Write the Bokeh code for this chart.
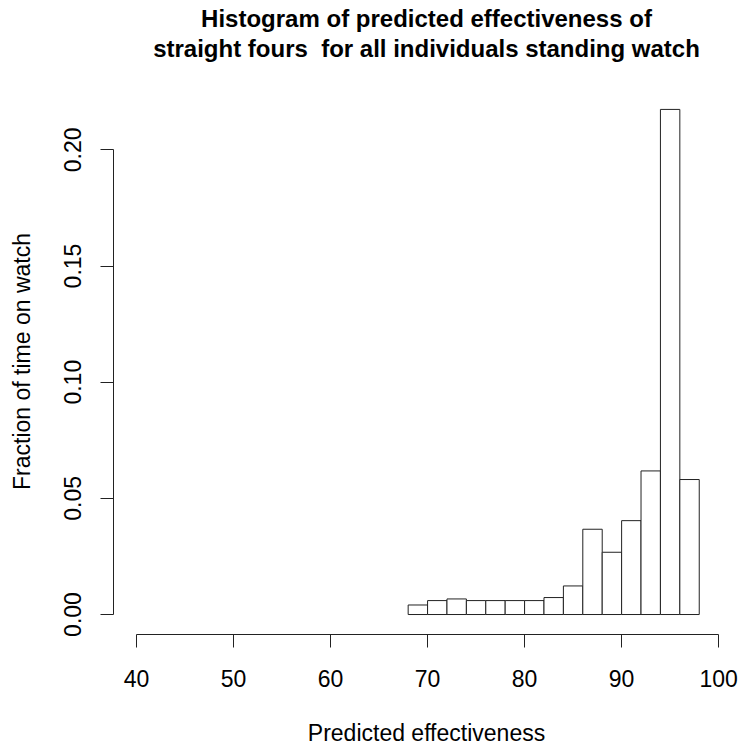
from bokeh.plotting import figure
from bokeh.layouts import column
from bokeh.models import FixedTicker, NumeralTickFormatter, Label
from bokeh.embed import file_html
from bokeh.resources import INLINE

# Histogram bins (left edges, width 2) and density heights
bin_left = [68, 70, 72, 74, 76, 78, 80, 82, 84, 86, 88, 90, 92, 94, 96]
bin_width = 2
density = [0.0041, 0.0060, 0.0067, 0.0060, 0.0060, 0.0060, 0.0060, 0.0073,
           0.0123, 0.0367, 0.0268, 0.0404, 0.0618, 0.2174, 0.0581]

x_ticks = [40, 50, 60, 70, 80, 90, 100]
y_ticks = [0.00, 0.05, 0.10, 0.15, 0.20]

title_lines = ["Histogram of predicted effectiveness of",
               "straight fours \u00a0for all individuals standing watch"]
x_label = "Predicted effectiveness"
y_label = "Fraction of time on watch"

FONT = "Liberation Sans"
INK = "#222222"

W = 739
TITLE_H = 88
PLOT_H = 748 - TITLE_H
BORDER_L, BORDER_B = 113, 114

# ---- title strip: a bare canvas holding the two centred title lines ----
# (the column aligns its frame with the histogram frame below)
head = figure(width=W, height=TITLE_H, x_range=(0, 1), y_range=(0, 1),
              output_backend="svg", toolbar_location=None,
              x_axis_location=None, y_axis_location=None,
              min_border=0)
head.outline_line_color = None
head.grid.visible = False
head.background_fill_color = "white"
head.border_fill_color = "white"

frame_mid_x = (W - BORDER_L) / 2
line_mid_from_top = [18, 48]
for text, top in zip(title_lines, line_mid_from_top):
    head.add_layout(Label(x=frame_mid_x, y=TITLE_H - top,
                          x_units="screen", y_units="screen",
                          text=text, text_align="center",
                          text_baseline="middle",
                          text_font=FONT, text_font_size="24px",
                          text_font_style="bold", text_color="black"))

# ---- histogram ----
p = figure(width=W, height=PLOT_H, title=None,
           x_range=(37.63, 102.15), y_range=(-0.0086, 0.2264),
           output_backend="svg", toolbar_location=None,
           min_border_left=BORDER_L, min_border_right=0,
           min_border_top=0, min_border_bottom=BORDER_B)
p.outline_line_color = None
p.grid.visible = False
p.background_fill_color = "white"
p.border_fill_color = "white"

bin_right = [b + bin_width for b in bin_left]
p.quad(left=bin_left, right=bin_right, bottom=0, top=density,
       fill_color="white", line_color=INK, line_width=1)

# R-style detached axes
for ax in (p.xaxis[0], p.yaxis[0]):
    ax.axis_line_color = INK
    ax.major_tick_line_color = INK
    ax.minor_tick_line_color = None
    ax.major_tick_in = 0
    ax.major_tick_out = 13
    ax.major_label_text_font = FONT
    ax.major_label_text_font_size = "23px"
    ax.major_label_text_color = "black"
    ax.axis_label_text_font = FONT
    ax.axis_label_text_font_size = "23px"
    ax.axis_label_text_font_style = "normal"
    ax.axis_label_text_color = "black"

p.xaxis.bounds = (40, 100)
p.xaxis.ticker = FixedTicker(ticks=x_ticks)
p.xaxis.major_label_standoff = 22
p.xaxis.axis_label = x_label
p.xaxis.axis_label_standoff = 30

p.yaxis.bounds = (0, 0.20)
p.yaxis.ticker = FixedTicker(ticks=y_ticks)
p.yaxis.formatter = NumeralTickFormatter(format="0.00")
p.yaxis.major_label_orientation = "vertical"
p.yaxis.major_label_standoff = 19
p.yaxis.axis_label = y_label
p.yaxis.axis_label_standoff = 27

page = column(head, p, spacing=0)
open("out.html", "w").write(file_html(page, INLINE))
